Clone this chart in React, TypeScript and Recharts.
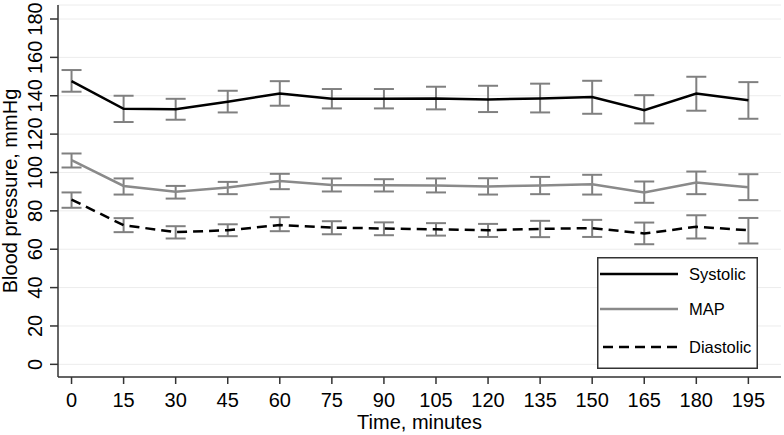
import React from "react";
import {
  CartesianGrid,
  ErrorBar,
  Label,
  Legend,
  Line,
  LineChart,
  XAxis,
  YAxis,
} from "recharts";

const FONT = "'Liberation Sans', Arial, Helvetica, sans-serif";

const times = [0, 15, 30, 45, 60, 75, 90, 105, 120, 135, 150, 165, 180, 195];

const systolic = [147.6, 133.2, 133.0, 136.9, 141.2, 138.4, 138.4, 138.6, 138.1, 138.6, 139.3, 132.5, 141.2, 137.6];
const systolicLow = [142.1, 126.3, 127.5, 131.3, 134.8, 133.4, 133.4, 132.9, 131.5, 131.3, 130.6, 125.6, 132.2, 128.0];
const systolicHigh = [153.4, 140.0, 138.4, 142.6, 147.6, 143.5, 143.5, 144.7, 145.2, 146.3, 147.8, 140.3, 149.9, 147.1];

const map = [106.4, 93.0, 89.9, 92.2, 95.6, 93.5, 93.3, 93.2, 92.7, 93.2, 93.9, 89.6, 94.8, 92.3];
const mapLow = [102.6, 88.5, 86.4, 88.7, 91.3, 90.1, 90.1, 89.6, 88.5, 88.7, 88.5, 84.2, 88.7, 85.6];
const mapHigh = [109.9, 96.9, 93.0, 95.1, 99.3, 96.9, 96.5, 96.9, 97.0, 97.7, 98.8, 95.3, 100.5, 99.1];

const diastolic = [85.9, 72.5, 68.9, 69.9, 72.6, 71.3, 70.8, 70.4, 69.9, 70.6, 71.0, 68.2, 71.7, 69.9];
const diastolicLow = [81.6, 68.9, 65.6, 66.8, 69.4, 67.8, 67.3, 67.1, 66.4, 66.3, 66.4, 62.6, 65.6, 63.0];
const diastolicHigh = [89.6, 76.2, 72.0, 73.0, 76.7, 74.6, 74.0, 73.6, 73.2, 74.8, 75.3, 73.9, 77.7, 76.3];

const xTicks = [0, 15, 30, 45, 60, 75, 90, 105, 120, 135, 150, 165, 180, 195];
const yTicks = [0, 20, 40, 60, 80, 100, 120, 140, 160, 180];

const legendItems = [
  { name: "Systolic", color: "#000000", dash: undefined },
  { name: "MAP", color: "#8a8a8a", dash: undefined },
  { name: "Diastolic", color: "#000000", dash: "10 6" },
];

// mean plus [below, above] deltas for the error bars
const data = times.map((t, i) => ({
  time: t,
  systolic: systolic[i],
  sysErr: [systolic[i] - systolicLow[i], systolicHigh[i] - systolic[i]],
  map: map[i],
  mapErr: [map[i] - mapLow[i], mapHigh[i] - map[i]],
  diastolic: diastolic[i],
  diaErr: [diastolic[i] - diastolicLow[i], diastolicHigh[i] - diastolic[i]],
}));

const AXIS = "#333333";
const ERR = "#808080";

const YTick = (props: any) => {
  const { x, y, payload } = props;
  return (
    <text
      x={x}
      y={y}
      transform={`rotate(-90, ${x}, ${y})`}
      textAnchor="middle"
      fontSize={20}
      fontFamily={FONT}
      fill="#000"
    >
      {payload.value}
    </text>
  );
};

const YLabel = (props: any) => {
  const vb = props.viewBox || { x: 0, y: 0, height: 0 };
  const cx = 17;
  const cy = vb.y + vb.height / 2;
  return (
    <text
      x={cx}
      y={cy}
      transform={`rotate(-90, ${cx}, ${cy})`}
      textAnchor="middle"
      fontSize={20}
      fontFamily={FONT}
      fill="#000"
    >
      Blood pressure, mmHg
    </text>
  );
};

const LegendBox = () => (
  <svg width={161} height={112} style={{ display: "block" }}>
    <rect x={0.75} y={0.75} width={159.5} height={110.5} fill="#fff" stroke={AXIS} strokeWidth={1.5} />
    {legendItems.map((item, i) => {
      const yy = [17, 52, 90][i];
      return (
        <g key={item.name}>
          <line
            x1={item.dash ? 6 : 3}
            x2={item.dash ? 83 : 81}
            y1={yy}
            y2={yy}
            stroke={item.color}
            strokeWidth={2.5}
            strokeDasharray={item.dash}
          />
          <text x={92} y={yy + 6} fontSize={16.5} fontFamily={FONT} fill="#000">
            {item.name}
          </text>
        </g>
      );
    })}
  </svg>
);

export default function App() {
  return (
    <div style={{ position: "absolute", left: 0, top: 0, width: 784, height: 435, background: "#fff" }}>
      <LineChart width={784} height={435} data={data} margin={{ top: 5, right: 3, bottom: 0, left: 0 }}>
        <CartesianGrid vertical={false} stroke="#ececec" strokeWidth={1} />
        <XAxis
          dataKey="time"
          type="number"
          domain={[-3.9, 204.4]}
          ticks={xTicks}
          allowDataOverflow
          height={58}
          tickSize={7}
          tickMargin={9}
          stroke={AXIS}
          strokeWidth={1.5}
          tick={{ fill: "#000", fontSize: 20, fontFamily: FONT }}
        >
          <Label value="Time, minutes" position="insideBottom" offset={6} fontSize={20} fontFamily={FONT} fill="#000" />
        </XAxis>
        <YAxis
          type="number"
          domain={[-6.6, 187.3]}
          ticks={yTicks}
          allowDataOverflow
          width={58}
          tickSize={8}
          tickMargin={8}
          stroke={AXIS}
          strokeWidth={1.5}
          tick={<YTick />}
        >
          <Label content={<YLabel />} />
        </YAxis>
        <Line
          dataKey="systolic"
          stroke="#000"
          strokeWidth={2.5}
          dot={false}
          activeDot={false}
          isAnimationActive={false}
        >
          <ErrorBar dataKey="sysErr" width={10} stroke={ERR} strokeWidth={2} isAnimationActive={false} />
        </Line>
        <Line
          dataKey="map"
          stroke="#8a8a8a"
          strokeWidth={2.5}
          dot={false}
          activeDot={false}
          isAnimationActive={false}
        >
          <ErrorBar dataKey="mapErr" width={10} stroke={ERR} strokeWidth={2} isAnimationActive={false} />
        </Line>
        <Line
          dataKey="diastolic"
          stroke="#000"
          strokeWidth={2.5}
          strokeDasharray="10 6"
          dot={false}
          activeDot={false}
          isAnimationActive={false}
        >
          <ErrorBar dataKey="diaErr" width={10} stroke={ERR} strokeWidth={2} isAnimationActive={false} />
        </Line>
        <Legend
          layout="vertical"
          align="center"
          verticalAlign="middle"
          wrapperStyle={{ left: 597, top: 257, width: 161, height: 112 }}
          content={() => <LegendBox />}
        />
      </LineChart>
    </div>
  );
}
